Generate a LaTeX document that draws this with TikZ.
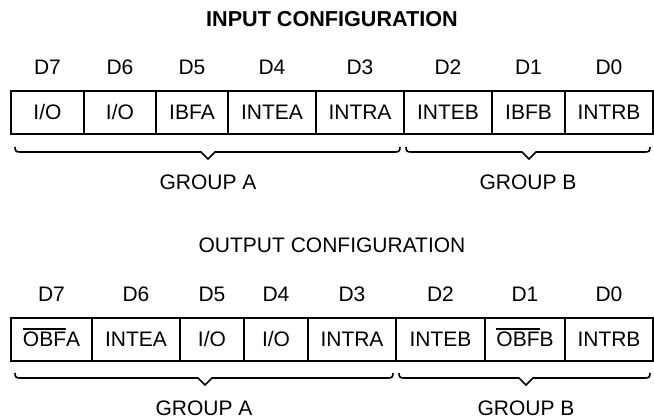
\documentclass[tikz,border=0pt]{standalone}
\usepackage{fontspec}
\setmainfont{Liberation Sans}
\newcommand\ovl[1]{\setbox0\hbox{#1}\rlap{\rule[\dimexpr\ht0+2.2pt\relax]{\wd0}{1.2pt}}\box0}
\newcommand\grpbrace[4]{% x1, x2, tip, y
  \draw[bracestyle] (#1,#4-5) .. controls (#1,#4-1) and (#1+1,#4) .. (#1+5,#4)
    -- (#3-7,#4) -- (#3,#4+7) -- (#3+7,#4) -- (#2-5,#4)
    .. controls (#2-1,#4) and (#2,#4-1) .. (#2,#4-5);}
\begin{document}
\begin{tikzpicture}[x=1pt,y=-1pt,
  txt/.style={font=\fontsize{21}{25}\selectfont, inner sep=0pt, anchor=base},
  ttl/.style={txt, font=\fontsize{21.6}{25}\selectfont\bfseries},
  cell/.style={draw, line width=1.7pt, inner sep=0pt},
  celltxt/.style={txt},
  bracestyle/.style={line width=1.6pt, line join=miter}]
\useasboundingbox (0,0) rectangle (654,419);
% ---- input configuration ----
\node[ttl] (tin) at (332,27) {INPUT CONFIGURATION};
\foreach \l/\r/\t/\d [count=\i] in {11/84/{I/O}/D7, 84/156/{I/O}/D6, 156/228/IBFA/D5, 228/316/INTEA/D4, 316/404/INTRA/D3, 404/492/INTEB/D2, 492/565/IBFB/D1, 565/653/INTRB/D0}{
  \node[cell, minimum width=\r-\l, minimum height=43] (ic\i) at ({(\l+\r)/2},112.5) {};
  \node[celltxt] (it\i) at ({(\l+\r)/2},119.5) {\t};
  \node[txt] (id\i) at ({(\l+\r)/2},75) {\d};
}
\grpbrace{15}{400}{208}{152}
\grpbrace{406}{650}{529}{152}
\node[txt] (iga) at (208,190) {GROUP A};
\node[txt] (igb) at (528,190) {GROUP B};
% ---- output configuration ----
\node[txt] (tout) at (332,253) {OUTPUT CONFIGURATION};
\foreach \l/\r/\t/\d [count=\i] in {11/92/{\ovl{OBF}A}/D7, 92/180/INTEA/D6, 180/244/{I/O}/D5, 244/308/{I/O}/D4, 308/396/INTRA/D3, 396/485/INTEB/D2, 485/565/{\ovl{OBF}B}/D1, 565/653/INTRB/D0}{
  \node[cell, minimum width=\r-\l, minimum height=43] (oc\i) at ({(\l+\r)/2},339.5) {};
  \node[celltxt] (ot\i) at ({(\l+\r)/2},346.5) {\t};
  \node[txt] (od\i) at ({(\l+\r)/2},302) {\d};
}
\grpbrace{15}{393}{205}{378}
\grpbrace{399}{650}{526}{378}
\node[txt] (oga) at (204,416) {GROUP A};
\node[txt] (ogb) at (526,416) {GROUP B};
\end{tikzpicture}
\end{document}
